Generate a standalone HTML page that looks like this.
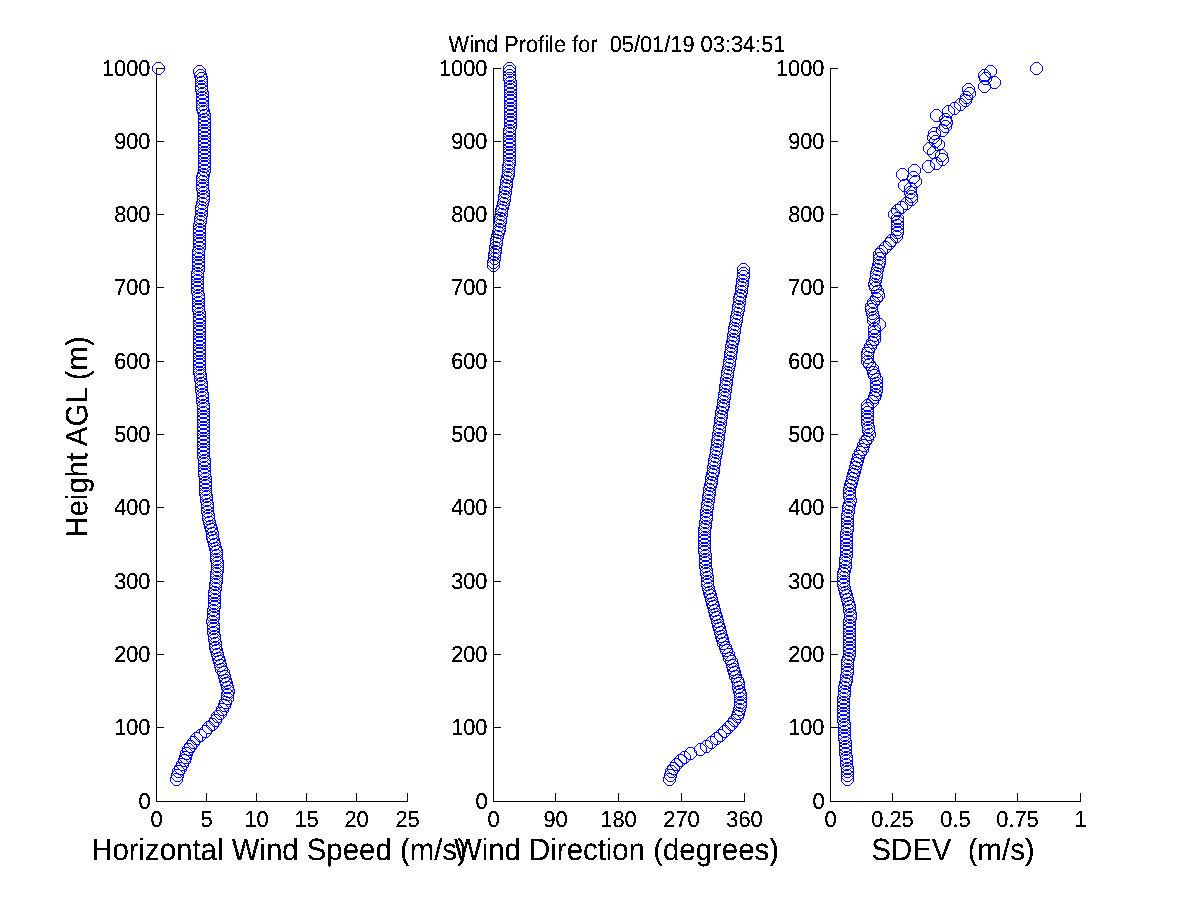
<!DOCTYPE html><html><head><meta charset="utf-8"><style>html,body{margin:0;padding:0;background:#fff;overflow:hidden}svg{display:block}text{font-family:"Liberation Sans",sans-serif;fill:#000;text-rendering:geometricPrecision}</style></head><body>
<svg width="1200" height="900" viewBox="0 0 1200 900">
<defs><filter id="bin" x="0" y="0" width="1200" height="900" filterUnits="userSpaceOnUse"><feComponentTransfer><feFuncA type="discrete" tableValues="0 0 1 1 1"/></feComponentTransfer></filter></defs>
<rect width="1200" height="900" fill="#fff"/>
<g filter="url(#bin)">
<path d="M156.5,68 V801.5 H407.5 M156,801.5h8 M156,727.5h8 M156,654.5h8 M156,581.5h8 M156,507.5h8 M156,434.5h8 M156,361.5h8 M156,287.5h8 M156,214.5h8 M156,141.5h8 M156,68.5h8 M156.5,801.5v-8 M206.5,801.5v-8 M256.5,801.5v-8 M306.5,801.5v-8 M356.5,801.5v-8 M407.5,801.5v-8" stroke="#000" stroke-width="1" fill="none"/>
<text transform="translate(150.5,808.9) scale(1,1.06)" text-anchor="end" font-size="21.8">0</text><text transform="translate(150.5,734.9) scale(1,1.06)" text-anchor="end" font-size="21.8">100</text><text transform="translate(150.5,661.9) scale(1,1.06)" text-anchor="end" font-size="21.8">200</text><text transform="translate(150.5,588.9) scale(1,1.06)" text-anchor="end" font-size="21.8">300</text><text transform="translate(150.5,514.9) scale(1,1.06)" text-anchor="end" font-size="21.8">400</text><text transform="translate(150.5,441.9) scale(1,1.06)" text-anchor="end" font-size="21.8">500</text><text transform="translate(150.5,368.9) scale(1,1.06)" text-anchor="end" font-size="21.8">600</text><text transform="translate(150.5,294.9) scale(1,1.06)" text-anchor="end" font-size="21.8">700</text><text transform="translate(150.5,221.9) scale(1,1.06)" text-anchor="end" font-size="21.8">800</text><text transform="translate(150.5,148.9) scale(1,1.06)" text-anchor="end" font-size="21.8">900</text><text transform="translate(150.5,75.9) scale(1,1.06)" text-anchor="end" font-size="21.8">1000</text><text transform="translate(156.5,826.8) scale(1,1.06)" text-anchor="middle" font-size="21.8">0</text><text transform="translate(206.5,826.8) scale(1,1.06)" text-anchor="middle" font-size="21.8">5</text><text transform="translate(256.5,826.8) scale(1,1.06)" text-anchor="middle" font-size="21.8">10</text><text transform="translate(306.5,826.8) scale(1,1.06)" text-anchor="middle" font-size="21.8">15</text><text transform="translate(356.5,826.8) scale(1,1.06)" text-anchor="middle" font-size="21.8">20</text><text transform="translate(407.5,826.8) scale(1,1.06)" text-anchor="middle" font-size="21.8">25</text>
<path d="M493.5,68 V801.5 H744.5 M493,801.5h8 M493,727.5h8 M493,654.5h8 M493,581.5h8 M493,507.5h8 M493,434.5h8 M493,361.5h8 M493,287.5h8 M493,214.5h8 M493,141.5h8 M493,68.5h8 M493.5,801.5v-8 M555.5,801.5v-8 M618.5,801.5v-8 M681.5,801.5v-8 M744.5,801.5v-8" stroke="#000" stroke-width="1" fill="none"/>
<text transform="translate(487.5,808.9) scale(1,1.06)" text-anchor="end" font-size="21.8">0</text><text transform="translate(487.5,734.9) scale(1,1.06)" text-anchor="end" font-size="21.8">100</text><text transform="translate(487.5,661.9) scale(1,1.06)" text-anchor="end" font-size="21.8">200</text><text transform="translate(487.5,588.9) scale(1,1.06)" text-anchor="end" font-size="21.8">300</text><text transform="translate(487.5,514.9) scale(1,1.06)" text-anchor="end" font-size="21.8">400</text><text transform="translate(487.5,441.9) scale(1,1.06)" text-anchor="end" font-size="21.8">500</text><text transform="translate(487.5,368.9) scale(1,1.06)" text-anchor="end" font-size="21.8">600</text><text transform="translate(487.5,294.9) scale(1,1.06)" text-anchor="end" font-size="21.8">700</text><text transform="translate(487.5,221.9) scale(1,1.06)" text-anchor="end" font-size="21.8">800</text><text transform="translate(487.5,148.9) scale(1,1.06)" text-anchor="end" font-size="21.8">900</text><text transform="translate(487.5,75.9) scale(1,1.06)" text-anchor="end" font-size="21.8">1000</text><text transform="translate(493.5,826.8) scale(1,1.06)" text-anchor="middle" font-size="21.8">0</text><text transform="translate(555.5,826.8) scale(1,1.06)" text-anchor="middle" font-size="21.8">90</text><text transform="translate(618.5,826.8) scale(1,1.06)" text-anchor="middle" font-size="21.8">180</text><text transform="translate(681.5,826.8) scale(1,1.06)" text-anchor="middle" font-size="21.8">270</text><text transform="translate(744.5,826.8) scale(1,1.06)" text-anchor="middle" font-size="21.8">360</text>
<path d="M830.5,68 V801.5 H1080.5 M830,801.5h8 M830,727.5h8 M830,654.5h8 M830,581.5h8 M830,507.5h8 M830,434.5h8 M830,361.5h8 M830,287.5h8 M830,214.5h8 M830,141.5h8 M830,68.5h8 M830.5,801.5v-8 M892.5,801.5v-8 M955.5,801.5v-8 M1017.5,801.5v-8 M1080.5,801.5v-8" stroke="#000" stroke-width="1" fill="none"/>
<text transform="translate(824.5,808.9) scale(1,1.06)" text-anchor="end" font-size="21.8">0</text><text transform="translate(824.5,734.9) scale(1,1.06)" text-anchor="end" font-size="21.8">100</text><text transform="translate(824.5,661.9) scale(1,1.06)" text-anchor="end" font-size="21.8">200</text><text transform="translate(824.5,588.9) scale(1,1.06)" text-anchor="end" font-size="21.8">300</text><text transform="translate(824.5,514.9) scale(1,1.06)" text-anchor="end" font-size="21.8">400</text><text transform="translate(824.5,441.9) scale(1,1.06)" text-anchor="end" font-size="21.8">500</text><text transform="translate(824.5,368.9) scale(1,1.06)" text-anchor="end" font-size="21.8">600</text><text transform="translate(824.5,294.9) scale(1,1.06)" text-anchor="end" font-size="21.8">700</text><text transform="translate(824.5,221.9) scale(1,1.06)" text-anchor="end" font-size="21.8">800</text><text transform="translate(824.5,148.9) scale(1,1.06)" text-anchor="end" font-size="21.8">900</text><text transform="translate(824.5,75.9) scale(1,1.06)" text-anchor="end" font-size="21.8">1000</text><text transform="translate(830.5,826.8) scale(1,1.06)" text-anchor="middle" font-size="21.8">0</text><text transform="translate(892.5,826.8) scale(1,1.06)" text-anchor="middle" font-size="21.8">0.25</text><text transform="translate(955.5,826.8) scale(1,1.06)" text-anchor="middle" font-size="21.8">0.5</text><text transform="translate(1017.5,826.8) scale(1,1.06)" text-anchor="middle" font-size="21.8">0.75</text><text transform="translate(1080.5,826.8) scale(1,1.06)" text-anchor="middle" font-size="21.8">1</text>
<text transform="translate(617,52) scale(1,1.06)" text-anchor="middle" font-size="21.8" xml:space="preserve">Wind Profile for  05/01/19 03:34:51</text>
<text transform="translate(279,860) scale(1,1.045)" text-anchor="middle" font-size="29.4">Horizontal Wind Speed (m/s)</text>
<text transform="translate(616.5,860) scale(1,1.045)" text-anchor="middle" font-size="29.4">Wind Direction (degrees)</text>
<text transform="translate(953,860) scale(1,1.045)" text-anchor="middle" font-size="29.4" xml:space="preserve">SDEV  (m/s)</text>
<text transform="translate(87.5,437) rotate(-90) scale(1,1.045)" text-anchor="middle" font-size="29.4">Height AGL (m)</text>
</g>
<path d="M174.5,773.5h4l4,4v4l-4,4h-4l-4-4v-4zM175.5,769.5h4l4,4v4l-4,4h-4l-4-4v-4zM176.5,765.5h4l4,4v4l-4,4h-4l-4-4v-4zM178.5,762.5h4l4,4v4l-4,4h-4l-4-4v-4zM180.5,758.5h4l4,4v4l-4,4h-4l-4-4v-4zM182.5,754.5h4l4,4v4l-4,4h-4l-4-4v-4zM183.5,751.5h4l4,4v4l-4,4h-4l-4-4v-4zM184.5,747.5h4l4,4v4l-4,4h-4l-4-4v-4zM186.5,743.5h4l4,4v4l-4,4h-4l-4-4v-4zM188.5,740.5h4l4,4v4l-4,4h-4l-4-4v-4zM191.5,736.5h4l4,4v4l-4,4h-4l-4-4v-4zM194.5,732.5h4l4,4v4l-4,4h-4l-4-4v-4zM198.5,729.5h4l4,4v4l-4,4h-4l-4-4v-4zM203.5,725.5h4l4,4v4l-4,4h-4l-4-4v-4zM206.5,721.5h4l4,4v4l-4,4h-4l-4-4v-4zM210.5,718.5h4l4,4v4l-4,4h-4l-4-4v-4zM213.5,714.5h4l4,4v4l-4,4h-4l-4-4v-4zM215.5,710.5h4l4,4v4l-4,4h-4l-4-4v-4zM218.5,707.5h4l4,4v4l-4,4h-4l-4-4v-4zM220.5,703.5h4l4,4v4l-4,4h-4l-4-4v-4zM222.5,699.5h4l4,4v4l-4,4h-4l-4-4v-4zM223.5,696.5h4l4,4v4l-4,4h-4l-4-4v-4zM225.5,692.5h4l4,4v4l-4,4h-4l-4-4v-4zM225.5,688.5h4l4,4v4l-4,4h-4l-4-4v-4zM226.5,685.5h4l4,4v4l-4,4h-4l-4-4v-4zM225.5,681.5h4l4,4v4l-4,4h-4l-4-4v-4zM224.5,677.5h4l4,4v4l-4,4h-4l-4-4v-4zM223.5,674.5h4l4,4v4l-4,4h-4l-4-4v-4zM222.5,670.5h4l4,4v4l-4,4h-4l-4-4v-4zM221.5,666.5h4l4,4v4l-4,4h-4l-4-4v-4zM219.5,663.5h4l4,4v4l-4,4h-4l-4-4v-4zM218.5,659.5h4l4,4v4l-4,4h-4l-4-4v-4zM217.5,655.5h4l4,4v4l-4,4h-4l-4-4v-4zM216.5,652.5h4l4,4v4l-4,4h-4l-4-4v-4zM215.5,648.5h4l4,4v4l-4,4h-4l-4-4v-4zM214.5,644.5h4l4,4v4l-4,4h-4l-4-4v-4zM213.5,641.5h4l4,4v4l-4,4h-4l-4-4v-4zM213.5,637.5h4l4,4v4l-4,4h-4l-4-4v-4zM212.5,633.5h4l4,4v4l-4,4h-4l-4-4v-4zM212.5,630.5h4l4,4v4l-4,4h-4l-4-4v-4zM211.5,626.5h4l4,4v4l-4,4h-4l-4-4v-4zM211.5,622.5h4l4,4v4l-4,4h-4l-4-4v-4zM211.5,619.5h4l4,4v4l-4,4h-4l-4-4v-4zM210.5,615.5h4l4,4v4l-4,4h-4l-4-4v-4zM211.5,611.5h4l4,4v4l-4,4h-4l-4-4v-4zM211.5,608.5h4l4,4v4l-4,4h-4l-4-4v-4zM211.5,604.5h4l4,4v4l-4,4h-4l-4-4v-4zM212.5,600.5h4l4,4v4l-4,4h-4l-4-4v-4zM212.5,597.5h4l4,4v4l-4,4h-4l-4-4v-4zM212.5,593.5h4l4,4v4l-4,4h-4l-4-4v-4zM212.5,589.5h4l4,4v4l-4,4h-4l-4-4v-4zM212.5,586.5h4l4,4v4l-4,4h-4l-4-4v-4zM213.5,582.5h4l4,4v4l-4,4h-4l-4-4v-4zM213.5,578.5h4l4,4v4l-4,4h-4l-4-4v-4zM214.5,575.5h4l4,4v4l-4,4h-4l-4-4v-4zM214.5,571.5h4l4,4v4l-4,4h-4l-4-4v-4zM214.5,567.5h4l4,4v4l-4,4h-4l-4-4v-4zM215.5,564.5h4l4,4v4l-4,4h-4l-4-4v-4zM215.5,560.5h4l4,4v4l-4,4h-4l-4-4v-4zM215.5,556.5h4l4,4v4l-4,4h-4l-4-4v-4zM214.5,553.5h4l4,4v4l-4,4h-4l-4-4v-4zM214.5,549.5h4l4,4v4l-4,4h-4l-4-4v-4zM214.5,545.5h4l4,4v4l-4,4h-4l-4-4v-4zM213.5,542.5h4l4,4v4l-4,4h-4l-4-4v-4zM212.5,538.5h4l4,4v4l-4,4h-4l-4-4v-4zM211.5,534.5h4l4,4v4l-4,4h-4l-4-4v-4zM210.5,531.5h4l4,4v4l-4,4h-4l-4-4v-4zM210.5,527.5h4l4,4v4l-4,4h-4l-4-4v-4zM209.5,523.5h4l4,4v4l-4,4h-4l-4-4v-4zM208.5,520.5h4l4,4v4l-4,4h-4l-4-4v-4zM207.5,516.5h4l4,4v4l-4,4h-4l-4-4v-4zM206.5,512.5h4l4,4v4l-4,4h-4l-4-4v-4zM206.5,509.5h4l4,4v4l-4,4h-4l-4-4v-4zM205.5,505.5h4l4,4v4l-4,4h-4l-4-4v-4zM205.5,501.5h4l4,4v4l-4,4h-4l-4-4v-4zM205.5,498.5h4l4,4v4l-4,4h-4l-4-4v-4zM204.5,494.5h4l4,4v4l-4,4h-4l-4-4v-4zM204.5,490.5h4l4,4v4l-4,4h-4l-4-4v-4zM203.5,487.5h4l4,4v4l-4,4h-4l-4-4v-4zM203.5,483.5h4l4,4v4l-4,4h-4l-4-4v-4zM203.5,479.5h4l4,4v4l-4,4h-4l-4-4v-4zM203.5,476.5h4l4,4v4l-4,4h-4l-4-4v-4zM203.5,472.5h4l4,4v4l-4,4h-4l-4-4v-4zM202.5,468.5h4l4,4v4l-4,4h-4l-4-4v-4zM202.5,465.5h4l4,4v4l-4,4h-4l-4-4v-4zM202.5,461.5h4l4,4v4l-4,4h-4l-4-4v-4zM202.5,457.5h4l4,4v4l-4,4h-4l-4-4v-4zM202.5,454.5h4l4,4v4l-4,4h-4l-4-4v-4zM201.5,450.5h4l4,4v4l-4,4h-4l-4-4v-4zM201.5,446.5h4l4,4v4l-4,4h-4l-4-4v-4zM201.5,443.5h4l4,4v4l-4,4h-4l-4-4v-4zM201.5,439.5h4l4,4v4l-4,4h-4l-4-4v-4zM201.5,435.5h4l4,4v4l-4,4h-4l-4-4v-4zM201.5,432.5h4l4,4v4l-4,4h-4l-4-4v-4zM201.5,428.5h4l4,4v4l-4,4h-4l-4-4v-4zM201.5,424.5h4l4,4v4l-4,4h-4l-4-4v-4zM201.5,421.5h4l4,4v4l-4,4h-4l-4-4v-4zM201.5,417.5h4l4,4v4l-4,4h-4l-4-4v-4zM201.5,413.5h4l4,4v4l-4,4h-4l-4-4v-4zM201.5,410.5h4l4,4v4l-4,4h-4l-4-4v-4zM201.5,406.5h4l4,4v4l-4,4h-4l-4-4v-4zM201.5,402.5h4l4,4v4l-4,4h-4l-4-4v-4zM201.5,399.5h4l4,4v4l-4,4h-4l-4-4v-4zM200.5,395.5h4l4,4v4l-4,4h-4l-4-4v-4zM200.5,391.5h4l4,4v4l-4,4h-4l-4-4v-4zM200.5,388.5h4l4,4v4l-4,4h-4l-4-4v-4zM199.5,384.5h4l4,4v4l-4,4h-4l-4-4v-4zM199.5,380.5h4l4,4v4l-4,4h-4l-4-4v-4zM199.5,377.5h4l4,4v4l-4,4h-4l-4-4v-4zM198.5,373.5h4l4,4v4l-4,4h-4l-4-4v-4zM198.5,369.5h4l4,4v4l-4,4h-4l-4-4v-4zM197.5,366.5h4l4,4v4l-4,4h-4l-4-4v-4zM197.5,362.5h4l4,4v4l-4,4h-4l-4-4v-4zM197.5,358.5h4l4,4v4l-4,4h-4l-4-4v-4zM197.5,355.5h4l4,4v4l-4,4h-4l-4-4v-4zM197.5,351.5h4l4,4v4l-4,4h-4l-4-4v-4zM197.5,347.5h4l4,4v4l-4,4h-4l-4-4v-4zM197.5,344.5h4l4,4v4l-4,4h-4l-4-4v-4zM197.5,340.5h4l4,4v4l-4,4h-4l-4-4v-4zM197.5,336.5h4l4,4v4l-4,4h-4l-4-4v-4zM197.5,333.5h4l4,4v4l-4,4h-4l-4-4v-4zM197.5,329.5h4l4,4v4l-4,4h-4l-4-4v-4zM197.5,325.5h4l4,4v4l-4,4h-4l-4-4v-4zM197.5,322.5h4l4,4v4l-4,4h-4l-4-4v-4zM197.5,318.5h4l4,4v4l-4,4h-4l-4-4v-4zM197.5,314.5h4l4,4v4l-4,4h-4l-4-4v-4zM197.5,311.5h4l4,4v4l-4,4h-4l-4-4v-4zM197.5,307.5h4l4,4v4l-4,4h-4l-4-4v-4zM196.5,303.5h4l4,4v4l-4,4h-4l-4-4v-4zM196.5,300.5h4l4,4v4l-4,4h-4l-4-4v-4zM196.5,296.5h4l4,4v4l-4,4h-4l-4-4v-4zM196.5,292.5h4l4,4v4l-4,4h-4l-4-4v-4zM196.5,289.5h4l4,4v4l-4,4h-4l-4-4v-4zM195.5,285.5h4l4,4v4l-4,4h-4l-4-4v-4zM195.5,281.5h4l4,4v4l-4,4h-4l-4-4v-4zM195.5,278.5h4l4,4v4l-4,4h-4l-4-4v-4zM195.5,274.5h4l4,4v4l-4,4h-4l-4-4v-4zM195.5,270.5h4l4,4v4l-4,4h-4l-4-4v-4zM195.5,267.5h4l4,4v4l-4,4h-4l-4-4v-4zM196.5,263.5h4l4,4v4l-4,4h-4l-4-4v-4zM196.5,259.5h4l4,4v4l-4,4h-4l-4-4v-4zM196.5,256.5h4l4,4v4l-4,4h-4l-4-4v-4zM196.5,252.5h4l4,4v4l-4,4h-4l-4-4v-4zM196.5,248.5h4l4,4v4l-4,4h-4l-4-4v-4zM196.5,245.5h4l4,4v4l-4,4h-4l-4-4v-4zM197.5,241.5h4l4,4v4l-4,4h-4l-4-4v-4zM197.5,237.5h4l4,4v4l-4,4h-4l-4-4v-4zM197.5,234.5h4l4,4v4l-4,4h-4l-4-4v-4zM197.5,230.5h4l4,4v4l-4,4h-4l-4-4v-4zM197.5,226.5h4l4,4v4l-4,4h-4l-4-4v-4zM197.5,223.5h4l4,4v4l-4,4h-4l-4-4v-4zM197.5,219.5h4l4,4v4l-4,4h-4l-4-4v-4zM198.5,215.5h4l4,4v4l-4,4h-4l-4-4v-4zM198.5,212.5h4l4,4v4l-4,4h-4l-4-4v-4zM199.5,208.5h4l4,4v4l-4,4h-4l-4-4v-4zM199.5,204.5h4l4,4v4l-4,4h-4l-4-4v-4zM199.5,201.5h4l4,4v4l-4,4h-4l-4-4v-4zM200.5,197.5h4l4,4v4l-4,4h-4l-4-4v-4zM201.5,193.5h4l4,4v4l-4,4h-4l-4-4v-4zM201.5,190.5h4l4,4v4l-4,4h-4l-4-4v-4zM201.5,186.5h4l4,4v4l-4,4h-4l-4-4v-4zM200.5,182.5h4l4,4v4l-4,4h-4l-4-4v-4zM200.5,179.5h4l4,4v4l-4,4h-4l-4-4v-4zM200.5,175.5h4l4,4v4l-4,4h-4l-4-4v-4zM200.5,171.5h4l4,4v4l-4,4h-4l-4-4v-4zM201.5,168.5h4l4,4v4l-4,4h-4l-4-4v-4zM202.5,164.5h4l4,4v4l-4,4h-4l-4-4v-4zM202.5,160.5h4l4,4v4l-4,4h-4l-4-4v-4zM202.5,157.5h4l4,4v4l-4,4h-4l-4-4v-4zM202.5,153.5h4l4,4v4l-4,4h-4l-4-4v-4zM202.5,149.5h4l4,4v4l-4,4h-4l-4-4v-4zM202.5,146.5h4l4,4v4l-4,4h-4l-4-4v-4zM202.5,142.5h4l4,4v4l-4,4h-4l-4-4v-4zM202.5,138.5h4l4,4v4l-4,4h-4l-4-4v-4zM202.5,135.5h4l4,4v4l-4,4h-4l-4-4v-4zM202.5,131.5h4l4,4v4l-4,4h-4l-4-4v-4zM202.5,127.5h4l4,4v4l-4,4h-4l-4-4v-4zM202.5,124.5h4l4,4v4l-4,4h-4l-4-4v-4zM202.5,120.5h4l4,4v4l-4,4h-4l-4-4v-4zM202.5,116.5h4l4,4v4l-4,4h-4l-4-4v-4zM202.5,113.5h4l4,4v4l-4,4h-4l-4-4v-4zM202.5,109.5h4l4,4v4l-4,4h-4l-4-4v-4zM201.5,105.5h4l4,4v4l-4,4h-4l-4-4v-4zM200.5,102.5h4l4,4v4l-4,4h-4l-4-4v-4zM200.5,98.5h4l4,4v4l-4,4h-4l-4-4v-4zM200.5,94.5h4l4,4v4l-4,4h-4l-4-4v-4zM200.5,91.5h4l4,4v4l-4,4h-4l-4-4v-4zM200.5,87.5h4l4,4v4l-4,4h-4l-4-4v-4zM199.5,83.5h4l4,4v4l-4,4h-4l-4-4v-4zM199.5,80.5h4l4,4v4l-4,4h-4l-4-4v-4zM199.5,76.5h4l4,4v4l-4,4h-4l-4-4v-4zM199.5,72.5h4l4,4v4l-4,4h-4l-4-4v-4zM198.5,69.5h4l4,4v4l-4,4h-4l-4-4v-4zM197.5,65.5h4l4,4v4l-4,4h-4l-4-4v-4zM156.5,62.5h4l4,4v4l-4,4h-4l-4-4v-4z" fill="none" stroke="#0000ff" stroke-width="1" shape-rendering="crispEdges"/>
<path d="M491.5,259.5h4l4,4v4l-4,4h-4l-4-4v-4zM491.5,256.5h4l4,4v4l-4,4h-4l-4-4v-4zM492.5,252.5h4l4,4v4l-4,4h-4l-4-4v-4zM492.5,248.5h4l4,4v4l-4,4h-4l-4-4v-4zM493.5,245.5h4l4,4v4l-4,4h-4l-4-4v-4zM493.5,241.5h4l4,4v4l-4,4h-4l-4-4v-4zM494.5,237.5h4l4,4v4l-4,4h-4l-4-4v-4zM494.5,234.5h4l4,4v4l-4,4h-4l-4-4v-4zM495.5,230.5h4l4,4v4l-4,4h-4l-4-4v-4zM496.5,226.5h4l4,4v4l-4,4h-4l-4-4v-4zM497.5,223.5h4l4,4v4l-4,4h-4l-4-4v-4zM497.5,219.5h4l4,4v4l-4,4h-4l-4-4v-4zM498.5,215.5h4l4,4v4l-4,4h-4l-4-4v-4zM498.5,212.5h4l4,4v4l-4,4h-4l-4-4v-4zM499.5,208.5h4l4,4v4l-4,4h-4l-4-4v-4zM499.5,204.5h4l4,4v4l-4,4h-4l-4-4v-4zM500.5,201.5h4l4,4v4l-4,4h-4l-4-4v-4zM501.5,197.5h4l4,4v4l-4,4h-4l-4-4v-4zM502.5,193.5h4l4,4v4l-4,4h-4l-4-4v-4zM502.5,190.5h4l4,4v4l-4,4h-4l-4-4v-4zM503.5,186.5h4l4,4v4l-4,4h-4l-4-4v-4zM503.5,182.5h4l4,4v4l-4,4h-4l-4-4v-4zM504.5,179.5h4l4,4v4l-4,4h-4l-4-4v-4zM504.5,175.5h4l4,4v4l-4,4h-4l-4-4v-4zM505.5,171.5h4l4,4v4l-4,4h-4l-4-4v-4zM506.5,168.5h4l4,4v4l-4,4h-4l-4-4v-4zM506.5,164.5h4l4,4v4l-4,4h-4l-4-4v-4zM506.5,160.5h4l4,4v4l-4,4h-4l-4-4v-4zM507.5,157.5h4l4,4v4l-4,4h-4l-4-4v-4zM507.5,153.5h4l4,4v4l-4,4h-4l-4-4v-4zM507.5,149.5h4l4,4v4l-4,4h-4l-4-4v-4zM507.5,146.5h4l4,4v4l-4,4h-4l-4-4v-4zM507.5,142.5h4l4,4v4l-4,4h-4l-4-4v-4zM507.5,138.5h4l4,4v4l-4,4h-4l-4-4v-4zM507.5,135.5h4l4,4v4l-4,4h-4l-4-4v-4zM507.5,131.5h4l4,4v4l-4,4h-4l-4-4v-4zM507.5,127.5h4l4,4v4l-4,4h-4l-4-4v-4zM507.5,124.5h4l4,4v4l-4,4h-4l-4-4v-4zM508.5,120.5h4l4,4v4l-4,4h-4l-4-4v-4zM508.5,116.5h4l4,4v4l-4,4h-4l-4-4v-4zM508.5,113.5h4l4,4v4l-4,4h-4l-4-4v-4zM508.5,109.5h4l4,4v4l-4,4h-4l-4-4v-4zM508.5,105.5h4l4,4v4l-4,4h-4l-4-4v-4zM508.5,102.5h4l4,4v4l-4,4h-4l-4-4v-4zM508.5,98.5h4l4,4v4l-4,4h-4l-4-4v-4zM508.5,94.5h4l4,4v4l-4,4h-4l-4-4v-4zM508.5,91.5h4l4,4v4l-4,4h-4l-4-4v-4zM508.5,87.5h4l4,4v4l-4,4h-4l-4-4v-4zM508.5,83.5h4l4,4v4l-4,4h-4l-4-4v-4zM508.5,80.5h4l4,4v4l-4,4h-4l-4-4v-4zM508.5,76.5h4l4,4v4l-4,4h-4l-4-4v-4zM507.5,72.5h4l4,4v4l-4,4h-4l-4-4v-4zM507.5,69.5h4l4,4v4l-4,4h-4l-4-4v-4zM507.5,65.5h4l4,4v4l-4,4h-4l-4-4v-4zM507.5,62.5h4l4,4v4l-4,4h-4l-4-4v-4zM667.5,773.5h4l4,4v4l-4,4h-4l-4-4v-4zM668.5,769.5h4l4,4v4l-4,4h-4l-4-4v-4zM669.5,765.5h4l4,4v4l-4,4h-4l-4-4v-4zM671.5,762.5h4l4,4v4l-4,4h-4l-4-4v-4zM674.5,758.5h4l4,4v4l-4,4h-4l-4-4v-4zM678.5,754.5h4l4,4v4l-4,4h-4l-4-4v-4zM682.5,751.5h4l4,4v4l-4,4h-4l-4-4v-4zM688.5,747.5h4l4,4v4l-4,4h-4l-4-4v-4zM698.5,743.5h4l4,4v4l-4,4h-4l-4-4v-4zM704.5,740.5h4l4,4v4l-4,4h-4l-4-4v-4zM709.5,736.5h4l4,4v4l-4,4h-4l-4-4v-4zM714.5,732.5h4l4,4v4l-4,4h-4l-4-4v-4zM718.5,729.5h4l4,4v4l-4,4h-4l-4-4v-4zM722.5,725.5h4l4,4v4l-4,4h-4l-4-4v-4zM726.5,721.5h4l4,4v4l-4,4h-4l-4-4v-4zM729.5,718.5h4l4,4v4l-4,4h-4l-4-4v-4zM732.5,714.5h4l4,4v4l-4,4h-4l-4-4v-4zM735.5,710.5h4l4,4v4l-4,4h-4l-4-4v-4zM736.5,707.5h4l4,4v4l-4,4h-4l-4-4v-4zM737.5,703.5h4l4,4v4l-4,4h-4l-4-4v-4zM738.5,699.5h4l4,4v4l-4,4h-4l-4-4v-4zM738.5,696.5h4l4,4v4l-4,4h-4l-4-4v-4zM738.5,692.5h4l4,4v4l-4,4h-4l-4-4v-4zM738.5,688.5h4l4,4v4l-4,4h-4l-4-4v-4zM737.5,685.5h4l4,4v4l-4,4h-4l-4-4v-4zM736.5,681.5h4l4,4v4l-4,4h-4l-4-4v-4zM736.5,677.5h4l4,4v4l-4,4h-4l-4-4v-4zM735.5,674.5h4l4,4v4l-4,4h-4l-4-4v-4zM733.5,670.5h4l4,4v4l-4,4h-4l-4-4v-4zM732.5,666.5h4l4,4v4l-4,4h-4l-4-4v-4zM731.5,663.5h4l4,4v4l-4,4h-4l-4-4v-4zM730.5,659.5h4l4,4v4l-4,4h-4l-4-4v-4zM729.5,655.5h4l4,4v4l-4,4h-4l-4-4v-4zM727.5,652.5h4l4,4v4l-4,4h-4l-4-4v-4zM726.5,648.5h4l4,4v4l-4,4h-4l-4-4v-4zM724.5,644.5h4l4,4v4l-4,4h-4l-4-4v-4zM723.5,641.5h4l4,4v4l-4,4h-4l-4-4v-4zM721.5,637.5h4l4,4v4l-4,4h-4l-4-4v-4zM720.5,633.5h4l4,4v4l-4,4h-4l-4-4v-4zM719.5,630.5h4l4,4v4l-4,4h-4l-4-4v-4zM718.5,626.5h4l4,4v4l-4,4h-4l-4-4v-4zM717.5,622.5h4l4,4v4l-4,4h-4l-4-4v-4zM716.5,619.5h4l4,4v4l-4,4h-4l-4-4v-4zM715.5,615.5h4l4,4v4l-4,4h-4l-4-4v-4zM714.5,611.5h4l4,4v4l-4,4h-4l-4-4v-4zM713.5,608.5h4l4,4v4l-4,4h-4l-4-4v-4zM712.5,604.5h4l4,4v4l-4,4h-4l-4-4v-4zM711.5,600.5h4l4,4v4l-4,4h-4l-4-4v-4zM710.5,597.5h4l4,4v4l-4,4h-4l-4-4v-4zM709.5,593.5h4l4,4v4l-4,4h-4l-4-4v-4zM708.5,589.5h4l4,4v4l-4,4h-4l-4-4v-4zM707.5,586.5h4l4,4v4l-4,4h-4l-4-4v-4zM706.5,582.5h4l4,4v4l-4,4h-4l-4-4v-4zM705.5,578.5h4l4,4v4l-4,4h-4l-4-4v-4zM705.5,575.5h4l4,4v4l-4,4h-4l-4-4v-4zM705.5,571.5h4l4,4v4l-4,4h-4l-4-4v-4zM704.5,567.5h4l4,4v4l-4,4h-4l-4-4v-4zM704.5,564.5h4l4,4v4l-4,4h-4l-4-4v-4zM703.5,560.5h4l4,4v4l-4,4h-4l-4-4v-4zM703.5,556.5h4l4,4v4l-4,4h-4l-4-4v-4zM703.5,553.5h4l4,4v4l-4,4h-4l-4-4v-4zM703.5,549.5h4l4,4v4l-4,4h-4l-4-4v-4zM702.5,545.5h4l4,4v4l-4,4h-4l-4-4v-4zM702.5,542.5h4l4,4v4l-4,4h-4l-4-4v-4zM702.5,538.5h4l4,4v4l-4,4h-4l-4-4v-4zM702.5,534.5h4l4,4v4l-4,4h-4l-4-4v-4zM702.5,531.5h4l4,4v4l-4,4h-4l-4-4v-4zM702.5,527.5h4l4,4v4l-4,4h-4l-4-4v-4zM702.5,523.5h4l4,4v4l-4,4h-4l-4-4v-4zM703.5,520.5h4l4,4v4l-4,4h-4l-4-4v-4zM703.5,516.5h4l4,4v4l-4,4h-4l-4-4v-4zM704.5,512.5h4l4,4v4l-4,4h-4l-4-4v-4zM704.5,509.5h4l4,4v4l-4,4h-4l-4-4v-4zM704.5,505.5h4l4,4v4l-4,4h-4l-4-4v-4zM705.5,501.5h4l4,4v4l-4,4h-4l-4-4v-4zM705.5,498.5h4l4,4v4l-4,4h-4l-4-4v-4zM706.5,494.5h4l4,4v4l-4,4h-4l-4-4v-4zM706.5,490.5h4l4,4v4l-4,4h-4l-4-4v-4zM707.5,487.5h4l4,4v4l-4,4h-4l-4-4v-4zM707.5,483.5h4l4,4v4l-4,4h-4l-4-4v-4zM708.5,479.5h4l4,4v4l-4,4h-4l-4-4v-4zM709.5,476.5h4l4,4v4l-4,4h-4l-4-4v-4zM709.5,472.5h4l4,4v4l-4,4h-4l-4-4v-4zM710.5,468.5h4l4,4v4l-4,4h-4l-4-4v-4zM711.5,465.5h4l4,4v4l-4,4h-4l-4-4v-4zM711.5,461.5h4l4,4v4l-4,4h-4l-4-4v-4zM712.5,457.5h4l4,4v4l-4,4h-4l-4-4v-4zM712.5,454.5h4l4,4v4l-4,4h-4l-4-4v-4zM713.5,450.5h4l4,4v4l-4,4h-4l-4-4v-4zM714.5,446.5h4l4,4v4l-4,4h-4l-4-4v-4zM714.5,443.5h4l4,4v4l-4,4h-4l-4-4v-4zM715.5,439.5h4l4,4v4l-4,4h-4l-4-4v-4zM715.5,435.5h4l4,4v4l-4,4h-4l-4-4v-4zM716.5,432.5h4l4,4v4l-4,4h-4l-4-4v-4zM716.5,428.5h4l4,4v4l-4,4h-4l-4-4v-4zM717.5,424.5h4l4,4v4l-4,4h-4l-4-4v-4zM717.5,421.5h4l4,4v4l-4,4h-4l-4-4v-4zM718.5,417.5h4l4,4v4l-4,4h-4l-4-4v-4zM718.5,413.5h4l4,4v4l-4,4h-4l-4-4v-4zM719.5,410.5h4l4,4v4l-4,4h-4l-4-4v-4zM719.5,406.5h4l4,4v4l-4,4h-4l-4-4v-4zM720.5,402.5h4l4,4v4l-4,4h-4l-4-4v-4zM721.5,399.5h4l4,4v4l-4,4h-4l-4-4v-4zM721.5,395.5h4l4,4v4l-4,4h-4l-4-4v-4zM722.5,391.5h4l4,4v4l-4,4h-4l-4-4v-4zM722.5,388.5h4l4,4v4l-4,4h-4l-4-4v-4zM723.5,384.5h4l4,4v4l-4,4h-4l-4-4v-4zM723.5,380.5h4l4,4v4l-4,4h-4l-4-4v-4zM724.5,377.5h4l4,4v4l-4,4h-4l-4-4v-4zM724.5,373.5h4l4,4v4l-4,4h-4l-4-4v-4zM725.5,369.5h4l4,4v4l-4,4h-4l-4-4v-4zM725.5,366.5h4l4,4v4l-4,4h-4l-4-4v-4zM726.5,362.5h4l4,4v4l-4,4h-4l-4-4v-4zM727.5,358.5h4l4,4v4l-4,4h-4l-4-4v-4zM727.5,355.5h4l4,4v4l-4,4h-4l-4-4v-4zM728.5,351.5h4l4,4v4l-4,4h-4l-4-4v-4zM728.5,347.5h4l4,4v4l-4,4h-4l-4-4v-4zM729.5,344.5h4l4,4v4l-4,4h-4l-4-4v-4zM729.5,340.5h4l4,4v4l-4,4h-4l-4-4v-4zM730.5,336.5h4l4,4v4l-4,4h-4l-4-4v-4zM731.5,333.5h4l4,4v4l-4,4h-4l-4-4v-4zM731.5,329.5h4l4,4v4l-4,4h-4l-4-4v-4zM732.5,325.5h4l4,4v4l-4,4h-4l-4-4v-4zM732.5,322.5h4l4,4v4l-4,4h-4l-4-4v-4zM733.5,318.5h4l4,4v4l-4,4h-4l-4-4v-4zM734.5,314.5h4l4,4v4l-4,4h-4l-4-4v-4zM734.5,311.5h4l4,4v4l-4,4h-4l-4-4v-4zM735.5,307.5h4l4,4v4l-4,4h-4l-4-4v-4zM736.5,303.5h4l4,4v4l-4,4h-4l-4-4v-4zM736.5,300.5h4l4,4v4l-4,4h-4l-4-4v-4zM737.5,296.5h4l4,4v4l-4,4h-4l-4-4v-4zM737.5,292.5h4l4,4v4l-4,4h-4l-4-4v-4zM738.5,289.5h4l4,4v4l-4,4h-4l-4-4v-4zM739.5,285.5h4l4,4v4l-4,4h-4l-4-4v-4zM739.5,281.5h4l4,4v4l-4,4h-4l-4-4v-4zM740.5,278.5h4l4,4v4l-4,4h-4l-4-4v-4zM740.5,274.5h4l4,4v4l-4,4h-4l-4-4v-4zM741.5,270.5h4l4,4v4l-4,4h-4l-4-4v-4zM741.5,267.5h4l4,4v4l-4,4h-4l-4-4v-4zM741.5,263.5h4l4,4v4l-4,4h-4l-4-4v-4z" fill="none" stroke="#0000ff" stroke-width="1" shape-rendering="crispEdges"/>
<path d="M845.5,773.5h4l4,4v4l-4,4h-4l-4-4v-4zM845.5,769.5h4l4,4v4l-4,4h-4l-4-4v-4zM845.5,765.5h4l4,4v4l-4,4h-4l-4-4v-4zM845.5,762.5h4l4,4v4l-4,4h-4l-4-4v-4zM844.5,758.5h4l4,4v4l-4,4h-4l-4-4v-4zM844.5,754.5h4l4,4v4l-4,4h-4l-4-4v-4zM844.5,751.5h4l4,4v4l-4,4h-4l-4-4v-4zM843.5,747.5h4l4,4v4l-4,4h-4l-4-4v-4zM843.5,743.5h4l4,4v4l-4,4h-4l-4-4v-4zM843.5,740.5h4l4,4v4l-4,4h-4l-4-4v-4zM843.5,736.5h4l4,4v4l-4,4h-4l-4-4v-4zM842.5,732.5h4l4,4v4l-4,4h-4l-4-4v-4zM842.5,729.5h4l4,4v4l-4,4h-4l-4-4v-4zM842.5,725.5h4l4,4v4l-4,4h-4l-4-4v-4zM842.5,721.5h4l4,4v4l-4,4h-4l-4-4v-4zM842.5,718.5h4l4,4v4l-4,4h-4l-4-4v-4zM841.5,714.5h4l4,4v4l-4,4h-4l-4-4v-4zM841.5,710.5h4l4,4v4l-4,4h-4l-4-4v-4zM841.5,707.5h4l4,4v4l-4,4h-4l-4-4v-4zM841.5,703.5h4l4,4v4l-4,4h-4l-4-4v-4zM841.5,699.5h4l4,4v4l-4,4h-4l-4-4v-4zM841.5,696.5h4l4,4v4l-4,4h-4l-4-4v-4zM841.5,692.5h4l4,4v4l-4,4h-4l-4-4v-4zM842.5,688.5h4l4,4v4l-4,4h-4l-4-4v-4zM842.5,685.5h4l4,4v4l-4,4h-4l-4-4v-4zM842.5,681.5h4l4,4v4l-4,4h-4l-4-4v-4zM843.5,677.5h4l4,4v4l-4,4h-4l-4-4v-4zM844.5,674.5h4l4,4v4l-4,4h-4l-4-4v-4zM844.5,670.5h4l4,4v4l-4,4h-4l-4-4v-4zM845.5,666.5h4l4,4v4l-4,4h-4l-4-4v-4zM845.5,663.5h4l4,4v4l-4,4h-4l-4-4v-4zM845.5,659.5h4l4,4v4l-4,4h-4l-4-4v-4zM845.5,655.5h4l4,4v4l-4,4h-4l-4-4v-4zM846.5,652.5h4l4,4v4l-4,4h-4l-4-4v-4zM847.5,648.5h4l4,4v4l-4,4h-4l-4-4v-4zM847.5,644.5h4l4,4v4l-4,4h-4l-4-4v-4zM847.5,641.5h4l4,4v4l-4,4h-4l-4-4v-4zM847.5,637.5h4l4,4v4l-4,4h-4l-4-4v-4zM847.5,633.5h4l4,4v4l-4,4h-4l-4-4v-4zM847.5,630.5h4l4,4v4l-4,4h-4l-4-4v-4zM847.5,626.5h4l4,4v4l-4,4h-4l-4-4v-4zM847.5,622.5h4l4,4v4l-4,4h-4l-4-4v-4zM847.5,619.5h4l4,4v4l-4,4h-4l-4-4v-4zM847.5,615.5h4l4,4v4l-4,4h-4l-4-4v-4zM848.5,611.5h4l4,4v4l-4,4h-4l-4-4v-4zM848.5,608.5h4l4,4v4l-4,4h-4l-4-4v-4zM847.5,604.5h4l4,4v4l-4,4h-4l-4-4v-4zM847.5,600.5h4l4,4v4l-4,4h-4l-4-4v-4zM846.5,597.5h4l4,4v4l-4,4h-4l-4-4v-4zM845.5,593.5h4l4,4v4l-4,4h-4l-4-4v-4zM844.5,589.5h4l4,4v4l-4,4h-4l-4-4v-4zM843.5,586.5h4l4,4v4l-4,4h-4l-4-4v-4zM842.5,582.5h4l4,4v4l-4,4h-4l-4-4v-4zM841.5,578.5h4l4,4v4l-4,4h-4l-4-4v-4zM841.5,575.5h4l4,4v4l-4,4h-4l-4-4v-4zM841.5,571.5h4l4,4v4l-4,4h-4l-4-4v-4zM841.5,567.5h4l4,4v4l-4,4h-4l-4-4v-4zM842.5,564.5h4l4,4v4l-4,4h-4l-4-4v-4zM843.5,560.5h4l4,4v4l-4,4h-4l-4-4v-4zM843.5,556.5h4l4,4v4l-4,4h-4l-4-4v-4zM843.5,553.5h4l4,4v4l-4,4h-4l-4-4v-4zM844.5,549.5h4l4,4v4l-4,4h-4l-4-4v-4zM844.5,545.5h4l4,4v4l-4,4h-4l-4-4v-4zM844.5,542.5h4l4,4v4l-4,4h-4l-4-4v-4zM844.5,538.5h4l4,4v4l-4,4h-4l-4-4v-4zM844.5,534.5h4l4,4v4l-4,4h-4l-4-4v-4zM844.5,531.5h4l4,4v4l-4,4h-4l-4-4v-4zM844.5,527.5h4l4,4v4l-4,4h-4l-4-4v-4zM845.5,523.5h4l4,4v4l-4,4h-4l-4-4v-4zM845.5,520.5h4l4,4v4l-4,4h-4l-4-4v-4zM845.5,516.5h4l4,4v4l-4,4h-4l-4-4v-4zM845.5,512.5h4l4,4v4l-4,4h-4l-4-4v-4zM845.5,509.5h4l4,4v4l-4,4h-4l-4-4v-4zM846.5,505.5h4l4,4v4l-4,4h-4l-4-4v-4zM846.5,501.5h4l4,4v4l-4,4h-4l-4-4v-4zM847.5,498.5h4l4,4v4l-4,4h-4l-4-4v-4zM848.5,494.5h4l4,4v4l-4,4h-4l-4-4v-4zM847.5,490.5h4l4,4v4l-4,4h-4l-4-4v-4zM847.5,487.5h4l4,4v4l-4,4h-4l-4-4v-4zM847.5,483.5h4l4,4v4l-4,4h-4l-4-4v-4zM848.5,479.5h4l4,4v4l-4,4h-4l-4-4v-4zM849.5,476.5h4l4,4v4l-4,4h-4l-4-4v-4zM850.5,472.5h4l4,4v4l-4,4h-4l-4-4v-4zM851.5,468.5h4l4,4v4l-4,4h-4l-4-4v-4zM852.5,465.5h4l4,4v4l-4,4h-4l-4-4v-4zM853.5,461.5h4l4,4v4l-4,4h-4l-4-4v-4zM854.5,457.5h4l4,4v4l-4,4h-4l-4-4v-4zM855.5,454.5h4l4,4v4l-4,4h-4l-4-4v-4zM856.5,450.5h4l4,4v4l-4,4h-4l-4-4v-4zM858.5,446.5h4l4,4v4l-4,4h-4l-4-4v-4zM860.5,443.5h4l4,4v4l-4,4h-4l-4-4v-4zM861.5,439.5h4l4,4v4l-4,4h-4l-4-4v-4zM863.5,435.5h4l4,4v4l-4,4h-4l-4-4v-4zM865.5,432.5h4l4,4v4l-4,4h-4l-4-4v-4zM867.5,428.5h4l4,4v4l-4,4h-4l-4-4v-4zM866.5,424.5h4l4,4v4l-4,4h-4l-4-4v-4zM866.5,421.5h4l4,4v4l-4,4h-4l-4-4v-4zM865.5,417.5h4l4,4v4l-4,4h-4l-4-4v-4zM865.5,413.5h4l4,4v4l-4,4h-4l-4-4v-4zM865.5,410.5h4l4,4v4l-4,4h-4l-4-4v-4zM865.5,406.5h4l4,4v4l-4,4h-4l-4-4v-4zM865.5,402.5h4l4,4v4l-4,4h-4l-4-4v-4zM865.5,399.5h4l4,4v4l-4,4h-4l-4-4v-4zM870.5,395.5h4l4,4v4l-4,4h-4l-4-4v-4zM872.5,391.5h4l4,4v4l-4,4h-4l-4-4v-4zM873.5,388.5h4l4,4v4l-4,4h-4l-4-4v-4zM874.5,384.5h4l4,4v4l-4,4h-4l-4-4v-4zM874.5,380.5h4l4,4v4l-4,4h-4l-4-4v-4zM874.5,377.5h4l4,4v4l-4,4h-4l-4-4v-4zM874.5,373.5h4l4,4v4l-4,4h-4l-4-4v-4zM872.5,369.5h4l4,4v4l-4,4h-4l-4-4v-4zM871.5,366.5h4l4,4v4l-4,4h-4l-4-4v-4zM870.5,362.5h4l4,4v4l-4,4h-4l-4-4v-4zM867.5,358.5h4l4,4v4l-4,4h-4l-4-4v-4zM865.5,355.5h4l4,4v4l-4,4h-4l-4-4v-4zM865.5,351.5h4l4,4v4l-4,4h-4l-4-4v-4zM865.5,347.5h4l4,4v4l-4,4h-4l-4-4v-4zM866.5,344.5h4l4,4v4l-4,4h-4l-4-4v-4zM868.5,340.5h4l4,4v4l-4,4h-4l-4-4v-4zM870.5,336.5h4l4,4v4l-4,4h-4l-4-4v-4zM872.5,333.5h4l4,4v4l-4,4h-4l-4-4v-4zM872.5,329.5h4l4,4v4l-4,4h-4l-4-4v-4zM872.5,325.5h4l4,4v4l-4,4h-4l-4-4v-4zM872.5,322.5h4l4,4v4l-4,4h-4l-4-4v-4zM877.5,318.5h4l4,4v4l-4,4h-4l-4-4v-4zM871.5,314.5h4l4,4v4l-4,4h-4l-4-4v-4zM871.5,311.5h4l4,4v4l-4,4h-4l-4-4v-4zM870.5,307.5h4l4,4v4l-4,4h-4l-4-4v-4zM869.5,303.5h4l4,4v4l-4,4h-4l-4-4v-4zM869.5,300.5h4l4,4v4l-4,4h-4l-4-4v-4zM871.5,296.5h4l4,4v4l-4,4h-4l-4-4v-4zM874.5,292.5h4l4,4v4l-4,4h-4l-4-4v-4zM876.5,289.5h4l4,4v4l-4,4h-4l-4-4v-4zM875.5,285.5h4l4,4v4l-4,4h-4l-4-4v-4zM873.5,281.5h4l4,4v4l-4,4h-4l-4-4v-4zM872.5,278.5h4l4,4v4l-4,4h-4l-4-4v-4zM873.5,274.5h4l4,4v4l-4,4h-4l-4-4v-4zM874.5,270.5h4l4,4v4l-4,4h-4l-4-4v-4zM874.5,267.5h4l4,4v4l-4,4h-4l-4-4v-4zM875.5,263.5h4l4,4v4l-4,4h-4l-4-4v-4zM876.5,259.5h4l4,4v4l-4,4h-4l-4-4v-4zM877.5,256.5h4l4,4v4l-4,4h-4l-4-4v-4zM877.5,252.5h4l4,4v4l-4,4h-4l-4-4v-4zM877.5,248.5h4l4,4v4l-4,4h-4l-4-4v-4zM879.5,245.5h4l4,4v4l-4,4h-4l-4-4v-4zM883.5,241.5h4l4,4v4l-4,4h-4l-4-4v-4zM887.5,237.5h4l4,4v4l-4,4h-4l-4-4v-4zM889.5,234.5h4l4,4v4l-4,4h-4l-4-4v-4zM894.5,230.5h4l4,4v4l-4,4h-4l-4-4v-4zM895.5,226.5h4l4,4v4l-4,4h-4l-4-4v-4zM895.5,223.5h4l4,4v4l-4,4h-4l-4-4v-4zM1034.5,62.5h4l4,4v4l-4,4h-4l-4-4v-4zM988.5,65.5h4l4,4v4l-4,4h-4l-4-4v-4zM982.5,69.5h4l4,4v4l-4,4h-4l-4-4v-4zM983.5,72.5h4l4,4v4l-4,4h-4l-4-4v-4zM992.5,76.5h4l4,4v4l-4,4h-4l-4-4v-4zM982.5,80.5h4l4,4v4l-4,4h-4l-4-4v-4zM966.5,83.5h4l4,4v4l-4,4h-4l-4-4v-4zM967.5,87.5h4l4,4v4l-4,4h-4l-4-4v-4zM964.5,91.5h4l4,4v4l-4,4h-4l-4-4v-4zM963.5,94.5h4l4,4v4l-4,4h-4l-4-4v-4zM958.5,98.5h4l4,4v4l-4,4h-4l-4-4v-4zM952.5,102.5h4l4,4v4l-4,4h-4l-4-4v-4zM946.5,105.5h4l4,4v4l-4,4h-4l-4-4v-4zM934.5,109.5h4l4,4v4l-4,4h-4l-4-4v-4zM943.5,113.5h4l4,4v4l-4,4h-4l-4-4v-4zM944.5,116.5h4l4,4v4l-4,4h-4l-4-4v-4zM943.5,120.5h4l4,4v4l-4,4h-4l-4-4v-4zM940.5,124.5h4l4,4v4l-4,4h-4l-4-4v-4zM932.5,127.5h4l4,4v4l-4,4h-4l-4-4v-4zM931.5,131.5h4l4,4v4l-4,4h-4l-4-4v-4zM933.5,135.5h4l4,4v4l-4,4h-4l-4-4v-4zM936.5,138.5h4l4,4v4l-4,4h-4l-4-4v-4zM927.5,142.5h4l4,4v4l-4,4h-4l-4-4v-4zM931.5,146.5h4l4,4v4l-4,4h-4l-4-4v-4zM939.5,149.5h4l4,4v4l-4,4h-4l-4-4v-4zM940.5,153.5h4l4,4v4l-4,4h-4l-4-4v-4zM934.5,157.5h4l4,4v4l-4,4h-4l-4-4v-4zM926.5,160.5h4l4,4v4l-4,4h-4l-4-4v-4zM912.5,164.5h4l4,4v4l-4,4h-4l-4-4v-4zM900.5,168.5h4l4,4v4l-4,4h-4l-4-4v-4zM911.5,171.5h4l4,4v4l-4,4h-4l-4-4v-4zM913.5,175.5h4l4,4v4l-4,4h-4l-4-4v-4zM902.5,179.5h4l4,4v4l-4,4h-4l-4-4v-4zM908.5,182.5h4l4,4v4l-4,4h-4l-4-4v-4zM908.5,186.5h4l4,4v4l-4,4h-4l-4-4v-4zM909.5,190.5h4l4,4v4l-4,4h-4l-4-4v-4zM909.5,193.5h4l4,4v4l-4,4h-4l-4-4v-4zM904.5,197.5h4l4,4v4l-4,4h-4l-4-4v-4zM899.5,201.5h4l4,4v4l-4,4h-4l-4-4v-4zM895.5,204.5h4l4,4v4l-4,4h-4l-4-4v-4zM892.5,208.5h4l4,4v4l-4,4h-4l-4-4v-4zM895.5,212.5h4l4,4v4l-4,4h-4l-4-4v-4zM895.5,215.5h4l4,4v4l-4,4h-4l-4-4v-4zM895.5,219.5h4l4,4v4l-4,4h-4l-4-4v-4z" fill="none" stroke="#0000ff" stroke-width="1" shape-rendering="crispEdges"/>
</svg></body></html>
